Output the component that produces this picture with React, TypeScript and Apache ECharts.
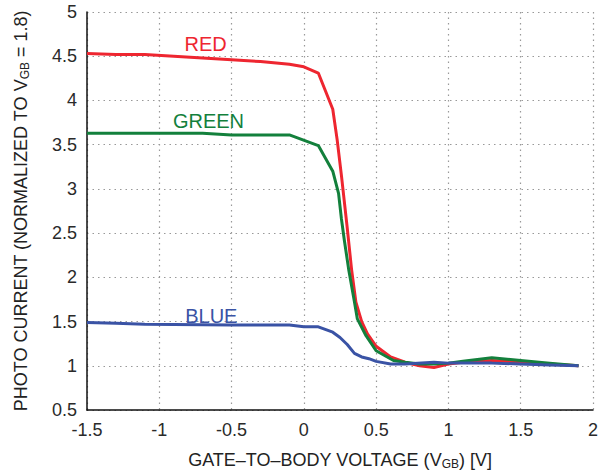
import React, { useEffect, useRef } from "react";
import * as echarts from "echarts";

const redX = [-1.5, -1.3, -1.1, -0.9, -0.7, -0.5, -0.3, -0.1, 0, 0.1, 0.2, 0.23, 0.26, 0.3, 0.33, 0.36, 0.4, 0.44, 0.5, 0.6, 0.7, 0.8, 0.9, 1.0, 1.1, 1.3, 1.5, 1.7, 1.9];
const redY = [4.53, 4.52, 4.52, 4.5, 4.48, 4.46, 4.44, 4.41, 4.38, 4.31, 3.9, 3.56, 3.15, 2.56, 2.09, 1.72, 1.5, 1.36, 1.22, 1.1, 1.04, 1.0, 0.98, 1.02, 1.04, 1.06, 1.04, 1.02, 1.0];

const greenX = [-1.5, -1.1, -0.7, -0.5, -0.3, -0.1, 0.1, 0.2, 0.24, 0.26, 0.28, 0.31, 0.35, 0.37, 0.43, 0.5, 0.62, 0.7, 0.8, 0.9, 1.0, 1.1, 1.3, 1.5, 1.7, 1.9];
const greenY = [3.63, 3.63, 3.63, 3.61, 3.61, 3.61, 3.49, 3.2, 2.95, 2.66, 2.42, 2.09, 1.72, 1.53, 1.34, 1.17, 1.06, 1.04, 1.02, 1.02, 1.03, 1.05, 1.09, 1.06, 1.03, 1.0];

const blueX = [-1.5, -1.3, -1.1, -0.5, -0.1, 0, 0.1, 0.2, 0.25, 0.3, 0.35, 0.4, 0.45, 0.5, 0.6, 0.7, 0.9, 1.0, 1.3, 1.5, 1.7, 1.9];
const blueY = [1.49, 1.48, 1.47, 1.46, 1.46, 1.44, 1.44, 1.38, 1.32, 1.24, 1.14, 1.1, 1.08, 1.05, 1.02, 1.02, 1.04, 1.03, 1.03, 1.02, 1.01, 1.0];

const seriesNames = ["RED", "GREEN", "BLUE"];
const seriesColors = ["#ee2630", "#13803c", "#3a53a5"];
const seriesZ = [2, 3, 4];
const labelPos = [
  [-0.68, 4.64],
  [-0.66, 3.77],
  [-0.64, 1.565],
];

const xTicks = { min: -1.5, max: 2, interval: 0.5 };
const yTicks = { min: 0.5, max: 5, interval: 0.5 };

const zip = (xs: number[], ys: number[]) => xs.map((x, i) => [x, ys[i]]);

export default function App() {
  const ref = useRef<HTMLDivElement>(null);
  useEffect(() => {
    if (!ref.current) return;
    const chart = echarts.init(ref.current, null, { renderer: "svg" });
    const font = "Liberation Sans, Arial, sans-serif";
    const data = [zip(redX, redY), zip(greenX, greenY), zip(blueX, blueY)];
    const nameRich = {
      s: { fontSize: 18, fontFamily: font, color: "#222" },
      sub: { fontSize: 12, fontFamily: font, color: "#222", verticalAlign: "bottom", padding: [8, 0, 0, 0] },
    };
    chart.setOption({
      animation: false,
      backgroundColor: "#fff",
      grid: { left: 87, right: 22, top: 12, bottom: 63 },
      xAxis: {
        type: "value",
        ...xTicks,
        axisLine: { show: true, onZero: false, lineStyle: { color: "#111", width: 1.5 } },
        axisTick: { show: false },
        axisLabel: { color: "#2a2a2a", fontSize: 18, fontFamily: font, margin: 11 },
        splitLine: { show: true, lineStyle: { color: "#999", type: [1.5, 4], width: 1.2 } },
        name: "GATE\u2013TO\u2013BODY VOLTAGE ({s|V}{sub|GB}) [V]",
        nameLocation: "middle",
        nameGap: 40,
        nameTextStyle: { color: "#222", fontSize: 18, fontFamily: font, rich: nameRich },
      },
      yAxis: {
        type: "value",
        ...yTicks,
        axisLine: { show: true, onZero: false, lineStyle: { color: "#111", width: 1.5 } },
        axisTick: { show: false },
        axisLabel: { color: "#2a2a2a", fontSize: 18, fontFamily: font, margin: 10 },
        splitLine: { show: true, lineStyle: { color: "#999", type: [1.5, 4], width: 1.2 } },
        name: "PHOTO CURRENT (NORMALIZED TO {s|V}{sub|GB} = 1.8)",
        nameLocation: "middle",
        nameGap: 56,
        nameTextStyle: { color: "#222", fontSize: 18, fontFamily: font, rich: nameRich },
      },
      series: data.map((d, i) => ({
        name: seriesNames[i],
        type: "line",
        data: d,
        showSymbol: false,
        symbol: "none",
        lineStyle: { color: seriesColors[i], width: 3 },
        z: seriesZ[i],
        markPoint: {
          symbol: "circle",
          symbolSize: 0,
          data: [
            {
              coord: labelPos[i],
              label: {
                show: true,
                position: "inside",
                formatter: seriesNames[i],
                color: seriesColors[i],
                fontSize: 20,
                fontFamily: font,
              },
            },
          ],
        },
      })),
    });
    return () => chart.dispose();
  }, []);
  return <div ref={ref} style={{ width: 615, height: 475, position: "absolute", left: 0, top: 0 }} />;
}
